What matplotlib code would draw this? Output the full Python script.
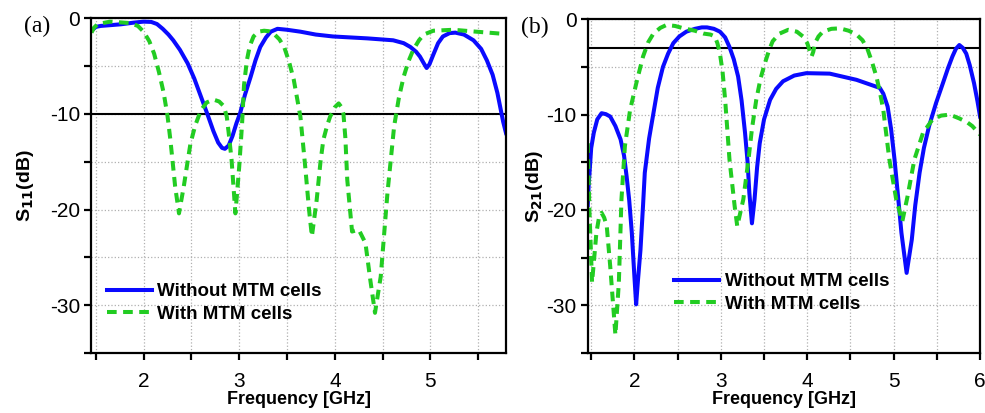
#!/usr/bin/env python
"""
S11 / S21 of the filter, with and without the MTM cells
"""

import matplotlib
matplotlib.use("Agg")
import matplotlib.pyplot as plt
from matplotlib.ticker import MultipleLocator

plt.rcParams['font.family'] = ['Liberation Sans', 'DejaVu Sans']
plt.rcParams['axes.unicode_minus'] = False

# (a) S11, without MTM cells
s11_wo_f = [1.455, 1.50, 1.55, 1.76, 1.90, 2.00, 2.08, 2.14, 2.20, 2.26,
            2.31, 2.38, 2.46, 2.53, 2.60, 2.67, 2.73, 2.78, 2.82, 2.85, 2.89,
            2.93, 2.97, 3.01, 3.06, 3.12, 3.17, 3.22, 3.28, 3.33, 3.40, 3.50,
            3.64, 3.80, 3.98, 4.34, 4.61, 4.72, 4.79, 4.85, 4.89, 4.93, 4.96,
            4.99, 5.03, 5.08, 5.13, 5.20, 5.26, 5.35, 5.45, 5.53, 5.59, 5.65,
            5.70, 5.73, 5.76, 5.79]
s11_wo_db = [-1.3, -0.9, -0.8, -0.63, -0.45, -0.35, -0.38, -0.6, -1.1, -1.7,
             -2.3, -3.3, -4.7, -6.3, -8.2, -10.1, -11.8, -13.0, -13.55, -13.65,
             -13.3, -12.3, -11.0, -9.9, -8.0, -6.1, -4.4, -3.0, -2.0, -1.4,
             -1.1, -1.2, -1.4, -1.7, -1.9, -2.1, -2.3, -2.6, -3.0, -3.5, -4.0,
             -4.7, -5.2, -4.8, -3.8, -2.6, -1.9, -1.55, -1.5, -1.7, -2.3, -3.2,
             -4.4, -5.9, -7.8, -9.3, -10.8, -12.0]

# (a) S11, with MTM cells
s11_w_f = [1.455, 1.48, 1.52, 1.65, 1.86, 1.94, 2.00, 2.06, 2.11, 2.16, 2.21,
           2.25, 2.28, 2.33, 2.37, 2.42, 2.46, 2.49, 2.54, 2.60, 2.66, 2.73,
           2.79, 2.84, 2.87, 2.89, 2.92, 2.94, 2.96, 2.98, 3.00, 3.03, 3.05,
           3.08, 3.11, 3.15, 3.20, 3.26, 3.31, 3.36, 3.42, 3.47, 3.52, 3.57,
           3.64, 3.69, 3.73, 3.76, 3.81, 3.85, 3.88, 3.92, 3.95, 4.00, 4.04,
           4.07, 4.09, 4.11, 4.13, 4.18, 4.25, 4.32, 4.37, 4.42, 4.48, 4.55,
           4.62, 4.67, 4.72, 4.77, 4.82, 4.88, 4.93, 5.03, 5.24, 5.48, 5.73,
           5.79]
s11_w_db = [-1.5, -1.0, -0.6, -0.35, -0.5, -0.8, -1.4, -2.4, -3.7, -5.6,
            -7.8, -10.2, -12.7, -17.6, -20.4, -17.6, -15.0, -13.1, -11.2,
            -9.6, -8.8, -8.5, -8.7, -9.2, -10.3, -12.0, -14.8, -17.6, -20.4,
            -18.0, -15.5, -11.0, -7.0, -4.4, -2.9, -1.9, -1.4, -1.3, -1.35,
            -1.6, -2.2, -3.0, -4.5, -6.4, -10.3, -15.5, -20.0, -22.8, -19.0,
            -15.0, -12.7, -11.2, -10.3, -9.3, -8.9, -9.3, -10.0, -12.5, -16.9,
            -22.3, -22.1, -23.5, -27.3, -30.8, -27.0, -18.3, -11.3, -8.3,
            -6.1, -4.5, -3.3, -2.3, -1.7, -1.3, -1.2, -1.4, -1.6, -1.7]

# (b) S21, without MTM cells
s21_wo_f = [1.46, 1.47, 1.50, 1.53, 1.57, 1.62, 1.67, 1.72, 1.78, 1.84, 1.88,
            1.91, 1.94, 1.97, 2.00, 2.02, 2.04, 2.07, 2.10, 2.12, 2.17, 2.22,
            2.27, 2.33, 2.39, 2.45, 2.52, 2.60, 2.70, 2.78, 2.84, 2.92, 2.99,
            3.05, 3.10, 3.15, 3.20, 3.24, 3.28, 3.31, 3.33, 3.36, 3.39, 3.42,
            3.45, 3.50, 3.57, 3.64, 3.72, 3.85, 3.99, 4.26, 4.57, 4.84, 4.88,
            4.93, 4.97, 5.01, 5.05, 5.09, 5.15, 5.21, 5.25, 5.30, 5.35, 5.41,
            5.49, 5.57, 5.63, 5.68, 5.72, 5.76, 5.80, 5.84, 5.88, 5.93, 5.97,
            6.00]
s21_wo_db = [-19.5, -17.5, -13.5, -11.9, -10.5, -9.85, -9.95, -10.2, -11.2,
             -12.6, -14.3, -16.5, -19.0, -22.4, -27.0, -29.9, -27.5, -24.2,
             -19.5, -16.1, -12.5, -9.85, -7.2, -5.0, -3.6, -2.5, -1.8, -1.3,
             -1.0, -0.85, -0.85, -1.0, -1.3, -1.9, -2.9, -4.2, -6.0, -8.5,
             -11.9, -15.0, -18.2, -21.4, -18.9, -15.5, -13.0, -10.5, -8.45,
             -7.3, -6.5, -5.9, -5.65, -5.7, -6.35, -7.2, -7.8, -9.15, -11.5,
             -14.7, -18.5, -22.4, -26.6, -23.1, -19.5, -16.1, -13.5, -11.2,
             -8.8, -6.7, -5.1, -3.9, -3.1, -2.7, -3.0, -3.6, -4.8, -6.7, -8.6,
             -10.2]

# (b) S21, with MTM cells
s21_w_f = [1.46, 1.48, 1.51, 1.56, 1.59, 1.62, 1.65, 1.68, 1.72, 1.78, 1.82,
           1.85, 1.89, 1.95, 2.03, 2.10, 2.16, 2.22, 2.30, 2.37, 2.47, 2.57,
           2.70, 2.80, 2.88, 2.93, 2.96, 2.99, 3.02, 3.05, 3.10, 3.16, 3.19,
           3.26, 3.32, 3.36, 3.41, 3.46, 3.51, 3.56, 3.60, 3.68, 3.78, 3.88,
           3.95, 4.00, 4.05, 4.07, 4.09, 4.13, 4.18, 4.28, 4.38, 4.48, 4.57,
           4.64, 4.70, 4.75, 4.80, 4.84, 4.88, 4.95, 5.03, 5.10, 5.16, 5.24,
           5.34, 5.45, 5.55, 5.65, 5.76, 5.85, 5.91, 6.00]
s21_w_db = [-13.0, -20.3, -27.6, -22.4, -20.8, -20.3, -20.8, -21.7, -25.9,
            -33.1, -27.6, -18.9, -13.3, -9.5, -6.4, -3.9, -2.4, -1.5, -0.9,
            -0.6, -0.7, -0.95, -1.2, -1.5, -1.6, -1.8, -2.5, -3.6, -5.5,
            -8.45, -14.7, -19.6, -21.7, -18.9, -14.7, -11.5, -8.45, -6.2,
            -4.6, -3.2, -2.3, -1.5, -1.1, -1.3, -1.8, -2.5, -3.9, -3.4, -2.5,
            -1.8, -1.3, -1.0, -0.95, -1.2, -1.6, -2.2, -3.2, -4.5, -6.0, -7.6,
            -9.5, -14.7, -18.9, -21.2, -18.6, -14.7, -11.9, -10.5, -10.1,
            -10.0, -10.4, -10.8, -11.2, -12.1]

labels = ["Without MTM cells", "With MTM cells"]
BLUE = "#0a0aff"
GREEN = "#22cc22"


def style_axes(ax, xmin, xmax):
    ax.set_xlim(xmin, xmax)
    ax.set_ylim(-35, 0)
    ax.xaxis.set_major_locator(MultipleLocator(1))
    ax.xaxis.set_minor_locator(MultipleLocator(0.5))
    ax.yaxis.set_major_locator(MultipleLocator(10))
    ax.yaxis.set_minor_locator(MultipleLocator(5))
    ax.grid(True, which='both', color='#b0b0b0', linestyle=':', linewidth=0.9)
    ax.set_axisbelow(True)
    for sp in ax.spines.values():
        sp.set_linewidth(1.6)
    ax.tick_params(which='both', direction='out', length=5, width=1.6,
                   labelsize=15, pad=3)
    ax.tick_params(axis='x', which='both', pad=9)
    ax.set_xlabel("Frequency [GHz]", fontsize=13, fontweight='bold',
                  labelpad=0)


def plot():
    fig = plt.figure(figsize=(9.85, 4.13), dpi=100)
    ax1 = fig.add_axes([0.0924, 0.1453, 0.4213, 0.8104])
    ax2 = fig.add_axes([0.5967, 0.1453, 0.3983, 0.8080])

    # (a) reflection
    style_axes(ax1, 1.45, 5.79)
    ax1.axhline(-10, color='black', linewidth=1.5, zorder=1)
    ax1.plot(s11_wo_f, s11_wo_db, color=BLUE, linewidth=2.9, label=labels[0])
    ax1.plot(s11_w_f, s11_w_db, color=GREEN, linewidth=2.9,
             dashes=(2.4, 1.6), label=labels[1])
    ax1.set_ylabel("S$_{\\mathbf{11}}$(dB)", fontsize=14, fontweight='bold',
                   labelpad=10)
    ax1.legend(loc='lower left', bbox_to_anchor=(0.038, 0.09), frameon=False,
               prop={'weight': 'bold', 'size': 13.5}, handlelength=2.4,
               handletextpad=0.3, labelspacing=0.3, borderpad=0,
               borderaxespad=0)
    fig.text(0.024, 0.936, "(a)", family='Liberation Serif', fontsize=17,
             va='center')

    # (b) transmission
    style_axes(ax2, 1.46, 6.0)
    ax2.axhline(-3, color='black', linewidth=1.5, zorder=1)
    ax2.plot(s21_wo_f, s21_wo_db, color=BLUE, linewidth=2.9, label=labels[0])
    ax2.plot(s21_w_f, s21_w_db, color=GREEN, linewidth=2.9,
             dashes=(2.4, 1.6), label=labels[1])
    ax2.set_ylabel("S$_{\\mathbf{21}}$(dB)", fontsize=14, fontweight='bold',
                   labelpad=1)
    ax2.legend(loc='lower left', bbox_to_anchor=(0.22, 0.12), frameon=False,
               prop={'weight': 'bold', 'size': 13.5}, handlelength=2.4,
               handletextpad=0.3, labelspacing=0.3, borderpad=0,
               borderaxespad=0)
    fig.text(0.529, 0.934, "(b)", family='Liberation Serif', fontsize=17,
             va='center')

    fig.savefig("out.png", dpi=100)


if __name__ == "__main__":
    plot()
